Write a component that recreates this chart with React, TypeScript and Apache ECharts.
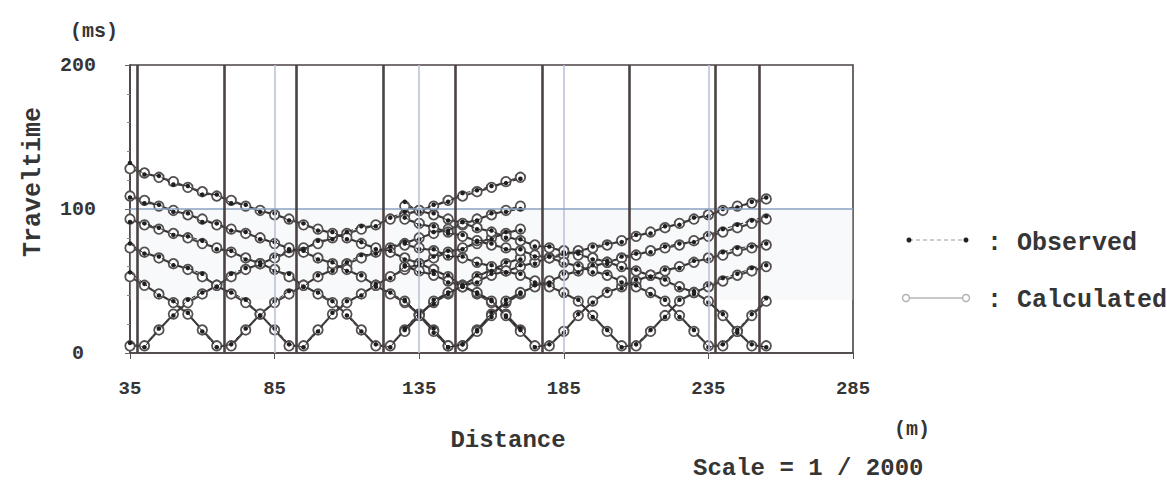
import React, { useEffect, useRef } from "react";
import * as echarts from "echarts";

// Receiver positions (m) of the two spreads
const receiversA = [35, 40, 45, 50, 55, 60, 65, 70, 75, 80, 85, 90, 95, 100, 105, 110, 115, 120, 125, 130, 135, 140, 145, 150, 155, 160, 165, 170];
const receiversB = [130, 135, 140, 145, 150, 155, 160, 165, 170, 175, 180, 185, 190, 195, 200, 205, 210, 215, 220, 225, 230, 235, 240, 245, 250, 255];

// Shot points (m)
const shotPositions = [37.5, 67.5, 92.5, 122.5, 147.5, 177.5, 207.5, 237.5, 252.5];
const guidePositions = [85, 135, 185, 235];
const xTickValues = [35, 85, 135, 185, 235, 285];
const yTickValues = [0, 100, 200];

// Spread A – calculated travel times (ms)
const calcA37 = [5, 5, 16, 27, 35, 41, 47, 53, 58, 62, 66, 70, 73, 76, 80, 83, 86, 89, 93, 96, 99, 102, 106, 109, 112, 115, 119, 122];
const calcA67 = [53, 47, 41, 35, 27, 16, 5, 5, 16, 27, 35, 41, 47, 53, 58, 62, 66, 70, 73, 76, 80, 83, 86, 89, 93, 96, 99, 102];
const calcA92 = [73, 70, 66, 62, 58, 53, 47, 41, 35, 27, 16, 5, 5, 16, 27, 35, 41, 47, 53, 58, 62, 66, 70, 73, 76, 80, 83, 86];
const calcA122 = [93, 89, 86, 83, 80, 76, 73, 70, 66, 62, 58, 53, 47, 41, 35, 27, 16, 5, 5, 16, 27, 35, 41, 47, 53, 58, 62, 66];
const calcA147 = [109, 106, 102, 99, 96, 93, 89, 86, 83, 80, 76, 73, 70, 66, 62, 58, 53, 47, 41, 35, 27, 16, 5, 5, 16, 27, 35, 41];
const calcA177 = [128, 125, 122, 119, 115, 112, 109, 106, 102, 99, 96, 93, 89, 86, 83, 80, 76, 73, 70, 66, 62, 58, 53, 47, 41, 35, 27, 16];

// Spread A – observed travel times (ms)
const obsA37 = [7, 4, 17, 26, 37, 42, 46, 55, 59, 61, 67, 71, 72, 78, 79, 84, 88, 88, 94, 98, 98, 103, 105, 111, 113, 116, 118, 121];
const obsA67 = [56, 48, 40, 36, 28, 15, 4, 6, 17, 26, 36, 43, 46, 54, 57, 63, 68, 69, 74, 77, 79, 84, 85, 91, 92, 97, 98, 100];
const obsA92 = [76, 69, 67, 61, 59, 55, 46, 42, 37, 26, 17, 6, 4, 15, 28, 36, 40, 48, 52, 60, 61, 67, 71, 72, 78, 79, 84, 85];
const obsA122 = [91, 90, 87, 82, 81, 78, 72, 71, 65, 63, 57, 55, 46, 42, 36, 26, 15, 6, 4, 17, 28, 34, 42, 46, 54, 57, 63, 65];
const obsA147 = [108, 104, 103, 98, 97, 91, 90, 85, 84, 79, 77, 72, 71, 65, 63, 57, 54, 46, 42, 36, 26, 17, 4, 6, 15, 28, 34, 42];
const obsA177 = [132, 124, 123, 117, 116, 110, 110, 104, 103, 98, 97, 92, 90, 85, 84, 79, 77, 72, 71, 65, 63, 57, 54, 46, 42, 36, 26, 17];

// Spread B – calculated travel times (ms)
const calcB122 = [15, 26, 36, 42, 46, 50, 54, 57, 60, 63, 66, 68, 71, 73, 75, 78, 81, 84, 87, 90, 93, 96, 99, 102, 104, 107];
const calcB147 = [36, 26, 15, 5, 5, 15, 26, 36, 42, 46, 50, 54, 57, 60, 63, 66, 68, 71, 73, 75, 78, 81, 84, 87, 90, 93];
const calcB177 = [60, 57, 54, 50, 46, 42, 36, 26, 15, 5, 5, 15, 26, 36, 42, 46, 50, 54, 57, 60, 63, 66, 68, 71, 73, 75];
const calcB207 = [75, 73, 71, 68, 66, 63, 60, 57, 54, 50, 46, 42, 36, 26, 15, 5, 5, 15, 26, 36, 42, 46, 50, 54, 57, 60];
const calcB237 = [93, 90, 87, 84, 81, 78, 75, 73, 71, 68, 66, 63, 60, 57, 54, 50, 46, 42, 36, 26, 15, 5, 5, 15, 26, 36];
const calcB252 = [102, 99, 96, 93, 90, 87, 84, 81, 78, 75, 73, 71, 68, 66, 63, 60, 57, 54, 50, 46, 42, 36, 26, 15, 5, 5];

// Spread B – observed travel times (ms)
const obsB122 = [16, 25, 37, 41, 47, 49, 55, 56, 61, 62, 67, 69, 70, 74, 76, 77, 82, 83, 88, 89, 94, 95, 100, 101, 105, 108];
const obsB147 = [37, 27, 14, 4, 6, 16, 25, 37, 41, 47, 49, 55, 56, 61, 62, 67, 69, 70, 74, 76, 77, 82, 86, 89, 92, 95];
const obsB177 = [61, 56, 55, 49, 47, 41, 37, 25, 16, 4, 6, 14, 27, 35, 43, 45, 51, 53, 58, 59, 64, 65, 70, 73, 74, 76];
const obsB207 = [76, 72, 72, 67, 67, 62, 61, 56, 55, 49, 47, 41, 37, 25, 16, 4, 6, 16, 25, 37, 41, 47, 52, 55, 59, 61];
const obsB237 = [94, 89, 88, 83, 82, 77, 76, 72, 72, 67, 67, 62, 61, 56, 55, 49, 47, 41, 37, 25, 16, 4, 6, 16, 27, 38];
const obsB252 = [105, 98, 97, 92, 91, 86, 85, 80, 79, 74, 74, 70, 69, 65, 64, 59, 58, 53, 51, 45, 43, 35, 27, 14, 6, 4];

const gathers = [
  { x: receiversA, calc: calcA37, obs: obsA37 },
  { x: receiversA, calc: calcA67, obs: obsA67 },
  { x: receiversA, calc: calcA92, obs: obsA92 },
  { x: receiversA, calc: calcA122, obs: obsA122 },
  { x: receiversA, calc: calcA147, obs: obsA147 },
  { x: receiversA, calc: calcA177, obs: obsA177 },
  { x: receiversB, calc: calcB122, obs: obsB122 },
  { x: receiversB, calc: calcB147, obs: obsB147 },
  { x: receiversB, calc: calcB177, obs: obsB177 },
  { x: receiversB, calc: calcB207, obs: obsB207 },
  { x: receiversB, calc: calcB237, obs: obsB237 },
  { x: receiversB, calc: calcB252, obs: obsB252 },
];

const MONO = "'Liberation Mono', 'DejaVu Sans Mono', monospace";
const TEXT = "#353535";

export default function App() {
  const ref = useRef<HTMLDivElement>(null);

  useEffect(() => {
    if (!ref.current) return;
    const chart = echarts.init(ref.current, null, { renderer: "svg" });

    const series: any[] = [];
    // background guides
    series.push({
      type: "line",
      data: [],
      silent: true,
      z: 1,
      markArea: {
        silent: true,
        itemStyle: { color: "rgba(226,232,242,0.28)" },
        data: [[{ yAxis: 37 }, { yAxis: 100 }]],
      },
      markLine: {
        silent: true,
        symbol: ["none", "none"],
        label: { show: false },
        data: [
          ...guidePositions.map((v) => ({ xAxis: v, lineStyle: { color: "#bcc3da", width: 1.6, type: "solid" } })),
          { yAxis: 100, lineStyle: { color: "#8aa2c2", width: 1.6, type: "solid" } },
        ],
      },
    });

    gathers.forEach((g) => {
      series.push({
        type: "line",
        name: "Calculated",
        data: g.x.map((v, i) => [v, g.calc[i]]),
        symbol: "circle",
        symbolSize: 9.5,
        showAllSymbol: true,
        silent: true,
        z: 3,
        lineStyle: { color: "#4a4545", width: 2.2 },
        itemStyle: { color: "#ffffff", borderColor: "#555050", borderWidth: 1.8 },
      });
    });
    gathers.forEach((g) => {
      series.push({
        type: "line",
        name: "Observed",
        data: g.x.map((v, i) => [v, g.obs[i]]),
        symbol: "circle",
        symbolSize: 4.5,
        showAllSymbol: true,
        silent: true,
        z: 4,
        lineStyle: { color: "#2a2a2a", width: 1, type: "dashed" },
        itemStyle: { color: "#1f1f1f" },
      });
    });
    // shot point lines
    series.push({
      type: "line",
      data: [],
      silent: true,
      z: 6,
      markLine: {
        silent: true,
        symbol: ["none", "none"],
        label: { show: false },
        data: shotPositions.map((v) => ({ xAxis: v, lineStyle: { color: "#4b4343", width: 2.6, type: "solid" } })),
      },
    });

    chart.setOption({
      animation: false,
      backgroundColor: "#ffffff",
      grid: {
        left: 130,
        right: 314,
        top: 65,
        bottom: 136,
        show: true,
        borderColor: "#4b4343",
        borderWidth: 1.6,
      },
      xAxis: {
        type: "value",
        min: 35,
        max: 285,
        axisLine: { show: true, lineStyle: { color: "#4b4343", width: 1.6 } },
        axisTick: { show: true, customValues: xTickValues, length: 6, lineStyle: { color: "#555" } },
        axisLabel: {
          customValues: xTickValues,
          margin: 26,
          fontFamily: MONO,
          fontWeight: "bold",
          fontSize: 19,
          color: TEXT,
        },
        splitLine: { show: false },
      },
      yAxis: {
        type: "value",
        min: 0,
        max: 200,
        interval: 100,
        axisLine: { show: true, lineStyle: { color: "#4b4343", width: 1.6 } },
        axisTick: { show: true, length: 5, lineStyle: { color: "#666" } },
        minorTick: { show: true, splitNumber: 5, length: 3, lineStyle: { color: "#888" } },
        axisLabel: {
          margin: 52,
          align: "center",
          fontFamily: MONO,
          fontWeight: "bold",
          fontSize: 20,
          color: TEXT,
        },
        splitLine: { show: false },
      },
      graphic: [
        { type: "text", left: 70, top: 21, style: { text: "(ms)", font: `bold 20px ${MONO}`, fill: TEXT } },
        {
          type: "text",
          x: 33,
          y: 182,
          rotation: Math.PI / 2,
          style: { text: "Traveltime", font: `bold 25px ${MONO}`, fill: TEXT, align: "center", verticalAlign: "middle" },
        },
        { type: "text", x: 508, y: 440, style: { text: "Distance", font: `bold 24px ${MONO}`, fill: TEXT, align: "center", verticalAlign: "middle" } },
        { type: "text", x: 912, y: 429, style: { text: "(m)", font: `bold 20px ${MONO}`, fill: TEXT, align: "center", verticalAlign: "middle" } },
        { type: "text", x: 693, y: 468, style: { text: "Scale = 1 / 2000", font: `bold 24px ${MONO}`, fill: TEXT, align: "left", verticalAlign: "middle" } },
        // legend: observed
        { type: "line", shape: { x1: 909, y1: 240, x2: 966, y2: 240 }, style: { stroke: "#9a9a9a", lineWidth: 1.2, lineDash: [4, 3] } },
        { type: "circle", shape: { cx: 909, cy: 240, r: 2.5 }, style: { fill: "#1f1f1f" } },
        { type: "circle", shape: { cx: 966, cy: 240, r: 2.5 }, style: { fill: "#1f1f1f" } },
        { type: "text", x: 987, y: 243, style: { text: ": Observed", font: `bold 25px ${MONO}`, fill: TEXT, align: "left", verticalAlign: "middle" } },
        // legend: calculated
        { type: "line", shape: { x1: 906, y1: 298, x2: 966, y2: 298 }, style: { stroke: "#b4b4b4", lineWidth: 1.6 } },
        { type: "circle", shape: { cx: 906, cy: 298, r: 3.5 }, style: { fill: "#fff", stroke: "#b0b0b0", lineWidth: 1.4 } },
        { type: "circle", shape: { cx: 966, cy: 298, r: 3.5 }, style: { fill: "#fff", stroke: "#b0b0b0", lineWidth: 1.4 } },
        { type: "text", x: 987, y: 300, style: { text: ": Calculated", font: `bold 25px ${MONO}`, fill: TEXT, align: "left", verticalAlign: "middle" } },
      ],
      series,
    });

    return () => chart.dispose();
  }, []);

  return <div ref={ref} style={{ position: "absolute", left: 0, top: 0, width: 1167, height: 489 }} />;
}
